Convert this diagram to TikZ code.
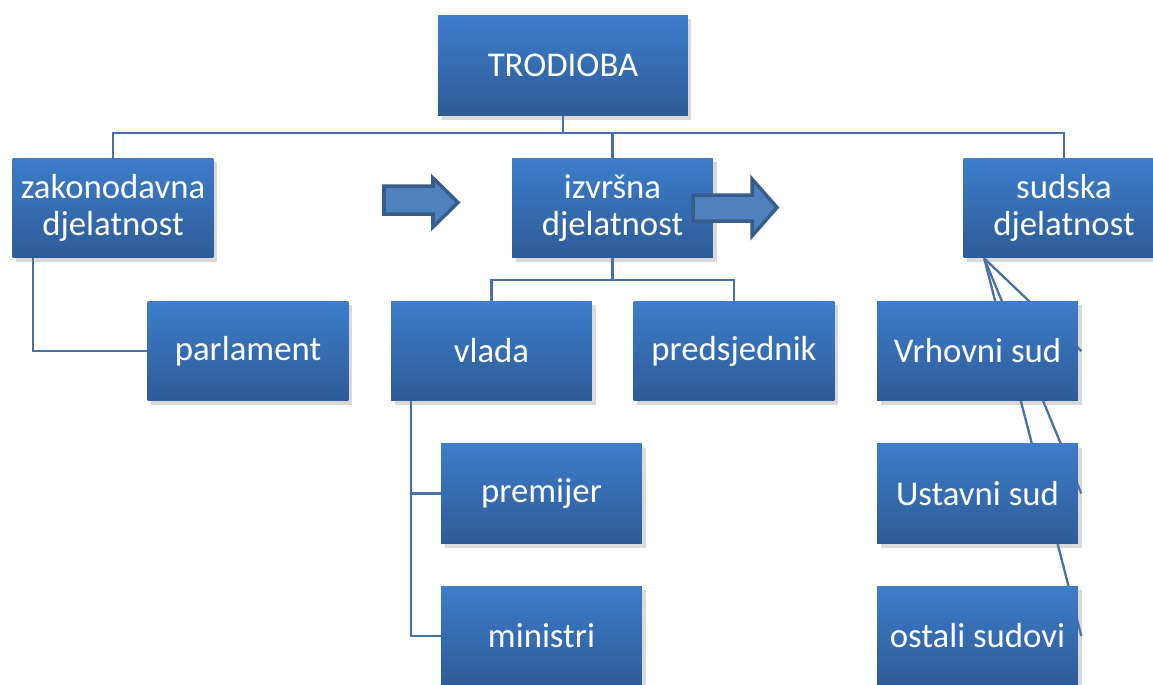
\documentclass[tikz,border=0pt]{standalone}
\usepackage{fontspec}
\setmainfont{Carlito}
\usetikzlibrary{calc,shadows,backgrounds}

\definecolor{boxtop}{RGB}{61,125,202}
\definecolor{boxbot}{RGB}{46,91,152}
\definecolor{linkblue}{RGB}{72,112,166}
\definecolor{arrfill}{RGB}{79,129,189}
\definecolor{arrline}{RGB}{56,93,138}

\begin{document}
\begin{tikzpicture}[x=0.02cm, y=-0.02cm,
    orgbox/.style={minimum width=4.02cm, minimum height=2cm, inner sep=0pt,
      align=center, text=white, font=\fontsize{19.8}{21}\selectfont,
      top color=boxtop, bottom color=boxbot,
      drop shadow={shadow xshift=2pt, shadow yshift=-2.5pt, opacity=0.3}},
    link/.style={draw=linkblue, line width=1.3pt},
    blockarrow/.style={fill=arrfill, draw=arrline, line width=2pt, line join=miter}]
    \useasboundingbox (0,0) rectangle (1153,684);

    % top of the tree
    \node[orgbox, minimum width=5cm, minimum height=2.02cm] (trodioba) at (563,65.5) {TRODIOBA};

    % three branches
    \node[orgbox] (zak) at (113,208) {zakonodavna\\djelatnost};
    \node[orgbox] (izv) at (612.5,208) {izvršna\\djelatnost};
    \node[orgbox] (sud) at (1064,208) {sudska\\djelatnost};

    % second level
    \node[orgbox] (parl) at (248,351) {parlament};
    \node[orgbox] (vlada) at (491.5,351) {vlada};
    \node[orgbox] (pred) at (734,351) {predsjednik};
    \node[orgbox] (prem) at (541.5,493.5) {premijer};
    \node[orgbox] (min) at (541.5,636) {ministri};

    % courts
    \node[orgbox] (vrh) at (977.5,351) {Vrhovni sud};
    \node[orgbox] (ust) at (977.5,493.5) {Ustavni sud};
    \node[orgbox] (ost) at (977.5,636) {ostali sudovi};

    \begin{scope}[on background layer]
      % main bus
      \draw[link] (trodioba.south) -- ++(0,17) coordinate (bus);
      \draw[link] (zak.north) |- (bus) -| (sud.north);
      \draw[link] (izv.north) |- (bus);

      % executive
      \draw[link] (izv.south) -- ++(0,22) coordinate (izvbus);
      \draw[link] (vlada.north) |- (izvbus) -| (pred.north);
      \draw[link] ($(vlada.south west)+(20,0)$) |- (prem.west);
      \draw[link] ($(vlada.south west)+(20,0)$) |- (min.west);

      % legislative
      \draw[link] ($(zak.south west)+(21,0)$) |- (parl.west);

      % judiciary
      \coordinate (sudroot) at ($(sud.south west)+(21,0)$);
      \draw[link] (sudroot) -- ($(vrh.east)+(3,0)$);
      \draw[link] (sudroot) -- ($(ust.east)+(3,0)$);
      \draw[link] (sudroot) -- ($(ost.east)+(3,0)$);
    \end{scope}

    % block arrows
    \draw[blockarrow] (384,186) -- (433,186) -- (433,178) -- (458,202.5)
      -- (433,227) -- (433,214) -- (384,214) -- cycle;
    \draw[blockarrow] (693,195) -- (752,195) -- (752,179) -- (777,207.5)
      -- (752,236) -- (752,221) -- (693,221) -- cycle;
\end{tikzpicture}
\end{document}
